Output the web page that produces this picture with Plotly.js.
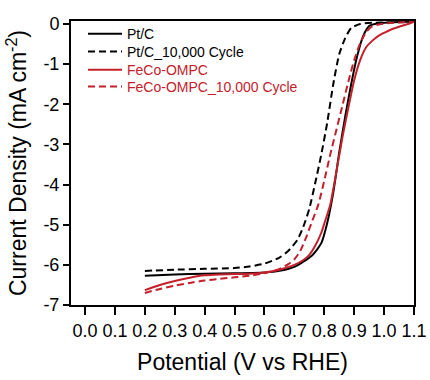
<!DOCTYPE html>
<html>
<head>
<meta charset="utf-8">
<script src="https://cdn.plot.ly/plotly-3.0.1.min.js"></script>
<style>html,body{margin:0;padding:0;background:#fff;}#chart{width:430px;height:380px;}</style>
</head>
<body>
<div id="chart"></div>
<script>
// Pt/C (solid black)
var ptcV = [0.2, 0.3, 0.4, 0.5, 0.6, 0.65, 0.7, 0.73, 0.76, 0.79, 0.81, 0.83, 0.85, 0.87, 0.89, 0.91, 0.93, 0.95, 0.98, 1.02, 1.06, 1.1];
var ptcJ = [-6.27, -6.24, -6.22, -6.21, -6.19, -6.15, -6.05, -5.92, -5.76, -5.46, -4.95, -4.2, -3.2, -2.3, -1.5, -0.8, -0.3, -0.05, 0.02, 0.04, 0.05, 0.06];
// Pt/C after 10,000 cycles (dashed black)
var ptc10kV = [0.2, 0.3, 0.4, 0.5, 0.55, 0.6, 0.65, 0.68, 0.71, 0.73, 0.75, 0.77, 0.79, 0.81, 0.83, 0.85, 0.87, 0.89, 0.92, 0.96, 1.02, 1.1];
var ptc10kJ = [-6.15, -6.12, -6.1, -6.08, -6.04, -5.97, -5.82, -5.65, -5.38, -5.05, -4.6, -3.95, -3.25, -2.45, -1.5, -0.75, -0.35, -0.1, 0.0, 0.03, 0.04, 0.05];
// FeCo-OMPC (solid red)
var fecoV = [0.2, 0.25, 0.3, 0.35, 0.4, 0.45, 0.5, 0.55, 0.6, 0.65, 0.7, 0.73, 0.75, 0.77, 0.79, 0.8, 0.82, 0.84, 0.86, 0.88, 0.9, 0.92, 0.94, 0.96, 0.98, 1.0, 1.02, 1.05, 1.08, 1.1];
var fecoJ = [-6.63, -6.5, -6.4, -6.32, -6.26, -6.24, -6.23, -6.22, -6.19, -6.12, -6.0, -5.88, -5.75, -5.52, -5.2, -4.97, -4.5, -3.7, -2.85, -2.1, -1.4, -0.9, -0.58, -0.42, -0.3, -0.22, -0.15, -0.07, 0.0, 0.06];
// FeCo-OMPC after 10,000 cycles (dashed red)
var feco10kV = [0.2, 0.25, 0.3, 0.35, 0.4, 0.45, 0.5, 0.55, 0.6, 0.65, 0.68, 0.7, 0.72, 0.74, 0.76, 0.78, 0.8, 0.82, 0.84, 0.86, 0.88, 0.9, 0.92, 0.94, 0.96, 0.99, 1.03, 1.07, 1.1];
var feco10kJ = [-6.7, -6.6, -6.52, -6.45, -6.39, -6.35, -6.31, -6.27, -6.21, -6.1, -5.98, -5.86, -5.65, -5.3, -4.9, -4.5, -3.9, -3.25, -2.65, -2.05, -1.45, -0.9, -0.48, -0.2, -0.06, 0.0, 0.03, 0.05, 0.07];

var seriesNames = ['Pt/C', 'Pt/C_10,000 Cycle', 'FeCo-OMPC', 'FeCo-OMPC_10,000 Cycle'];
var xTickVals = [0.0, 0.1, 0.2, 0.3, 0.4, 0.5, 0.6, 0.7, 0.8, 0.9, 1.0, 1.1];
var xTickText = ['0.0', '0.1', '0.2', '0.3', '0.4', '0.5', '0.6', '0.7', '0.8', '0.9', '1.0', '1.1'];
var yTickVals = [-7, -6, -5, -4, -3, -2, -1, 0];
var yTickText = ['-7', '-6', '-5', '-4', '-3', '-2', '-1', '0'];

var RED = '#c4202b';
function red(s) { return '<span style="color:' + RED + '">' + s + '</span>'; }

var traces = [
  {x: ptcV, y: ptcJ, name: seriesNames[0], legend: 'legend', mode: 'lines', line: {color: '#000', width: 2, shape: 'spline', smoothing: 0.6}},
  {x: ptc10kV, y: ptc10kJ, name: seriesNames[1], legend: 'legend2', mode: 'lines', line: {color: '#000', width: 2, dash: '7px,4px', shape: 'spline', smoothing: 0.6}},
  {x: fecoV, y: fecoJ, name: red(seriesNames[2]), legend: 'legend3', mode: 'lines', line: {color: RED, width: 2, shape: 'spline', smoothing: 0.6}},
  {x: feco10kV, y: feco10kJ, name: red(seriesNames[3]), legend: 'legend4', mode: 'lines', line: {color: RED, width: 2, dash: '7px,4px', shape: 'spline', smoothing: 0.6}}
];

var FONT = 'Liberation Sans, Arial, sans-serif';
function leg(yPaper) {
  return {x: 0.035, y: yPaper, xanchor: 'left', yanchor: 'middle', bgcolor: 'rgba(0,0,0,0)',
          itemwidth: 34, font: {family: FONT, size: 14, color: '#000'}};
}
var layout = {
  width: 430, height: 380,
  margin: {l: 71, r: 16, t: 21, b: 75},
  paper_bgcolor: '#fff', plot_bgcolor: '#fff',
  font: {family: FONT, color: '#000', size: 18},
  showlegend: true,
  legend: leg(0.954), legend2: leg(0.891), legend3: leg(0.827), legend4: leg(0.768),
  xaxis: {
    range: [-0.047, 1.1], tickvals: xTickVals, ticktext: xTickText,
    showline: true, linecolor: '#000', linewidth: 2, mirror: true,
    ticks: 'outside', ticklen: 8, tickwidth: 2, tickcolor: '#000',
    showgrid: false, zeroline: false,
    tickfont: {family: FONT, size: 18, color: '#000'},
    title: {text: 'Potential (V vs RHE)', font: {family: FONT, size: 23, color: '#000'}, standoff: 14}
  },
  yaxis: {
    range: [-7, 0.075], tickvals: yTickVals, ticktext: yTickText,
    showline: true, linecolor: '#000', linewidth: 2, mirror: true,
    ticks: 'outside', ticklen: 6, tickwidth: 2, tickcolor: '#000',
    showgrid: false, zeroline: false,
    tickfont: {family: FONT, size: 18, color: '#000'},
    title: {text: 'Current Density (mA cm<sup>-2</sup>)', font: {family: FONT, size: 23, color: '#000'}, standoff: 10}
  }
};

Plotly.newPlot('chart', traces, layout, {displayModeBar: false, staticPlot: true});
</script>
</body>
</html>
